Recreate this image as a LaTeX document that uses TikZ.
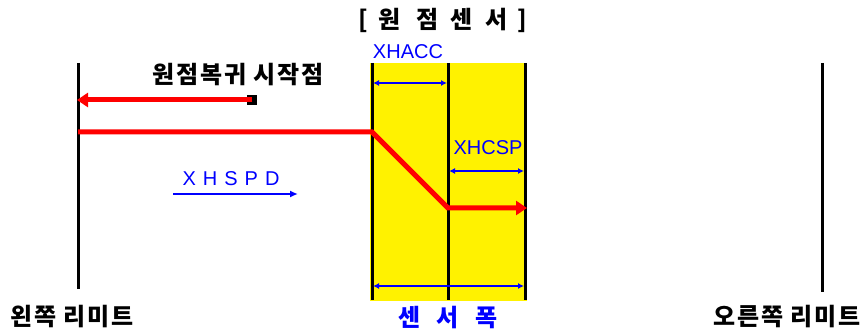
\documentclass[tikz,border=0pt]{standalone}
\usepackage{fontspec}
\setmainfont{Liberation Sans}
\newfontfamily\kr{Noto Sans CJK KR}[LetterSpace=8]
\usetikzlibrary{arrows.meta}
\tikzset{
  limitline/.style={line width=3pt, black},
  redpath/.style={line width=5pt, red, line join=miter},
  redtip/.style={-{Triangle[length=11pt,width=14pt]}},
  dimline/.style={line width=1.6pt, blue, {Latex[length=6pt,width=6pt]}-{Latex[length=6pt,width=6pt]}},
  kblack/.style={font=\kr\bfseries\fontsize{24}{26}\selectfont, text=black, inner sep=0pt},
  kblue/.style={font=\kr\bfseries\fontsize{24}{26}\selectfont, text=blue, inner sep=0pt},
  lbl/.style={font=\fontsize{20}{22}\selectfont, text=blue, inner sep=0pt}
}
\begin{document}
\begin{tikzpicture}[x=1pt,y=-1pt]
\useasboundingbox (0,0) rectangle (862,336);
% sensor area
\node[fill=yellow, minimum width=157pt, minimum height=238pt, inner sep=0pt, anchor=north west] (sensor) at (370,63) {};
% vertical lines
\coordinate (LT) at (78,63);  \coordinate (LB) at (78,289);
\coordinate (RT) at (822,63); \coordinate (RB) at (822,292);
\coordinate (S1T) at (372,63); \coordinate (S1B) at (372,300);
\coordinate (S2T) at (448,63); \coordinate (S2B) at (448,300);
\coordinate (S3T) at (525,63); \coordinate (S3B) at (525,300);
\draw[limitline] (LT) -- (LB);
\draw[limitline] (RT) -- (RB);
\draw[limitline] (S1T) -- (S1B);
\draw[limitline] (S2T) -- (S2B);
\draw[limitline] (S3T) -- (S3B);
% return start
\node[fill=black, minimum size=10pt, inner sep=0pt] (sq) at (252,100) {};
\coordinate (retend) at (77,100);
\draw[redpath, redtip] (sq.center) -- (retend);
% search path
\coordinate (p0) at (78,132);
\coordinate (p1) at (372,132);
\coordinate (p2) at (448,208);
\coordinate (p3) at (527,208);
\draw[redpath, redtip] (p0) -- (p1) -- (p2) -- (p3);
% XHSPD arrow
\coordinate (v0) at (173,194); \coordinate (v1) at (298,194);
\draw[line width=1.6pt, blue, -{Latex[length=8pt,width=7pt]}] (v0) -- (v1);
% dimension arrows
\coordinate (a0) at (373,83); \coordinate (a1) at (447,83);
\draw[dimline] (a0) -- (a1);
\coordinate (c0) at (449,171); \coordinate (c1) at (524,171);
\draw[dimline] (c0) -- (c1);
\coordinate (w0) at (373,286); \coordinate (w1) at (524,286);
\draw[dimline] (w0) -- (w1);
% labels
\node[kblack] (title) at (443,20) {[\hspace{10pt}원\hspace{16pt}점\hspace{12pt}센\hspace{13pt}서\hspace{10pt}]};
\node[kblack] (retlbl) at (238,75) {원점복귀 시작점};
\node[kblack] (leftlbl) at (72,317) {왼쪽 리미트};
\node[kblack] (rightlbl) at (787,317) {오른쪽 리미트};
\node[kblue] (widthlbl) at (448,318) {센\hspace{16pt}서\hspace{16pt}폭};
\node[lbl] (hacc) at (408,52) {XHACC};
\node[lbl] (hcsp) at (488,148) {XHCSP};
\node[lbl] (hspd) at (231,179) {X\hspace{7pt}H\hspace{7pt}S\hspace{7pt}P\hspace{7pt}D};
\end{tikzpicture}
\end{document}
